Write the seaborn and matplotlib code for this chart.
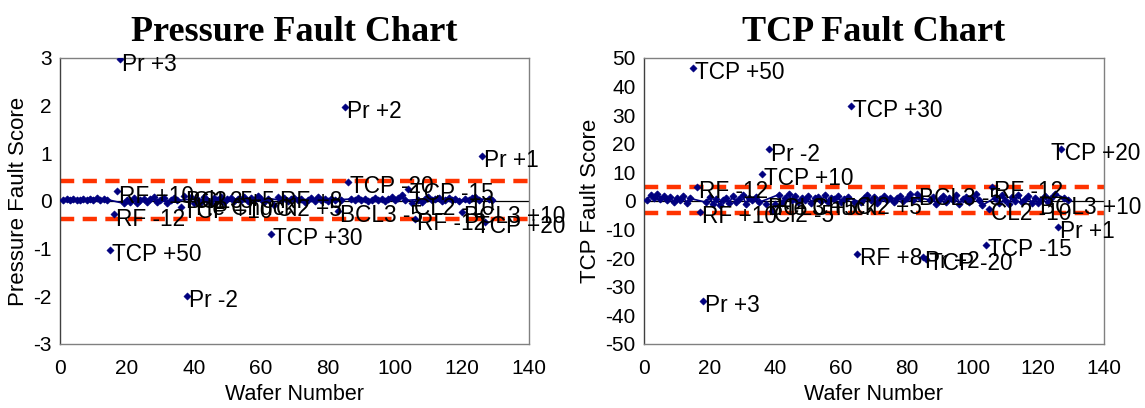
import matplotlib
matplotlib.use("Agg")
import matplotlib.pyplot as plt
import seaborn as sns
import pandas as pd

# ---------------- data ----------------
fault_labels = ["TCP +50", "RF -12", "RF +10", "Pr +3", "TCP +10", "BCL3 +5", "Pr -2",
                "Cl2 -5", "He Chuck", "TCP +30", "Cl2 +5", "RF +8", "BCL3 -5", "Pr +2",
                "TCP -20", "TCP -15", "CL2 -10", "RF -12", "BCL3 +10", "Pr +1", "TCP +20"]
fault_wafers = [15, 16, 17, 18, 36, 37, 38, 39, 40, 63, 64, 65, 83, 85, 86, 104, 105, 106, 120, 126, 127]
pressure_fault_scores = [-1.03, -0.28, 0.20, 2.97, -0.12, 0.10, -1.99, 0.08, -0.05, -0.69, -0.08,
                         0.08, -0.21, 1.98, 0.40, 0.25, -0.05, -0.38, -0.23, 0.95, -0.44]
tcp_fault_scores = [46.5, 5.0, -3.7, -35.0, 9.4, -1.0, 18.1, -3.5, -1.0, 33.2, -0.5,
                    -18.6, 2.4, -19.5, -20.3, -15.4, -2.8, 5.0, -0.7, -9.0, 18.3]

normal_wafers = [w for w in range(1, 130) if w not in fault_wafers]
pressure_normal = [0.03, 0.05, 0.02, 0.04, 0.01, 0.03, 0.05, 0.02, 0.04, 0.03, 0.06, 0.02, 0.04, 0.03,
                   -0.05, 0.03, -0.02, 0.06, -0.04, 0.02, 0.05, -0.03, 0.04, 0.08, -0.02, 0.03, 0.06, -0.05, 0.02, 0.07, 0.01,
                   0.05, -0.03, 0.08, 0.02, -0.04, 0.06, 0.01, 0.09, -0.02, 0.04, 0.07, -0.01, 0.05, 0.03, 0.08, 0.0,
                   0.06, 0.02, 0.10, 0.04, -0.02, 0.05,
                   0.02, 0.06, -0.01, 0.04, 0.07, 0.01, 0.05, -0.02, 0.03, 0.06, 0.0, 0.08, 0.03, 0.05, -0.01, 0.04, 0.02,
                   0.03,
                   0.04, 0.01, 0.06, 0.02, 0.05, -0.01, 0.03, 0.07, 0.02, 0.05, 0.0, 0.04, 0.08, 0.03, 0.06, 0.12, 0.01,
                   0.03, -0.02, 0.05, 0.08, 0.01, 0.04, 0.06, -0.01, 0.03, 0.07, 0.02, 0.05, 0.0,
                   0.04, 0.02, 0.06, 0.08, 0.03,
                   0.05, 0.02]
tcp_normal = [0.5, 2.0, 1.0, 2.5, 0.8, 1.8, 0.2, 1.5, -0.5, 1.2, 0.4, 1.6, -0.8, 0.9,
              -0.5, 1.5, -1.2, 0.8, -1.5, 0.5, 1.2, -0.8, 1.8, -0.2, 0.6, 2.0, -1.0, 1.0, 0.2, 1.5, -0.5,
              2.2, -0.8, 1.0, 2.5, 0.2, 1.6, -0.4, 1.2, 0.5, 1.8, -0.6, 0.9, 1.4, 0.1, 2.0, -0.3, 1.1, 0.6,
              1.7, -0.2, 0.8, 1.3,
              -0.5, 1.0, 2.2, 0.3, 1.5, -0.8, 0.7, 1.9, 0.2, 1.2, -0.4, 0.9, 1.6, 0.0, 1.1, 2.4, 0.5,
              1.0,
              0.4, 1.5, -1.2, 0.8, 1.8, -0.5, 1.2, 0.3, 2.2, -0.9, 0.6, 1.4, -0.2, 1.0, 2.5, 0.2, -1.5,
              1.2, -0.6, 2.0, 0.4, -1.0, 1.5, 0.1, 2.2, -0.4, 0.8, 1.6, -0.8, 1.2,
              0.3, 1.8, -0.5, 1.1, 2.6,
              1.0, 0.5]

pressure_limits = [0.42, -0.37]
tcp_limits = [4.8, -4.3]

titles = ["Pressure Fault Chart", "TCP Fault Chart"]
ylabels = ["Pressure Fault Score", "TCP Fault Score"]
xlabel = "Wafer Number"
x_ticks = [0, 20, 40, 60, 80, 100, 120, 140]
pressure_yticks = [-3, -2, -1, 0, 1, 2, 3]
tcp_yticks = [-50, -40, -30, -20, -10, 0, 10, 20, 30, 40, 50]

# ---------------- plotting ----------------
sns.set_style("white")
plt.rcParams["font.family"] = ["Liberation Sans", "DejaVu Sans"]
plt.rcParams["axes.unicode_minus"] = False
for key in ["text.color", "axes.labelcolor", "xtick.color", "ytick.color"]:
    plt.rcParams[key] = "black"

fig = plt.figure(figsize=(11.45, 4.08), dpi=100)
ax1 = fig.add_axes([0.0524, 0.157, 0.4096, 0.701])
ax2 = fig.add_axes([0.5624, 0.157, 0.4017, 0.701])

navy = "#00007F"
red = "#FF3300"
label_nudge = {"TCP +20": -7}

configs = [
    (ax1, pressure_normal, pressure_fault_scores, pressure_limits, pressure_yticks, titles[0], ylabels[0]),
    (ax2, tcp_normal, tcp_fault_scores, tcp_limits, tcp_yticks, titles[1], ylabels[1]),
]

for ax, normal, faults, limits, yticks, title, ylabel in configs:
    df_n = pd.DataFrame({"wafer": normal_wafers, "score": normal})
    df_f = pd.DataFrame({"wafer": fault_wafers, "score": faults, "label": fault_labels})
    ax.axhline(0, color="black", lw=0.9, zorder=1)
    for lim in limits:
        ax.axhline(lim, color=red, lw=3.2, dashes=(3.2, 1.9), zorder=2)
    sns.lineplot(data=df_n, x="wafer", y="score", ax=ax, color=navy, lw=1.2,
                 marker="D", markersize=3.5, markeredgecolor=navy, zorder=3)
    sns.scatterplot(data=df_f, x="wafer", y="score", ax=ax, color=navy, marker="D",
                    s=14, edgecolor=navy, zorder=4)
    for _, r in df_f.iterrows():
        dx = label_nudge.get(r["label"], 1.5)
        ax.annotate(r["label"], (r["wafer"], r["score"]), xytext=(dx, -3.5),
                    textcoords="offset points", ha="left", va="center",
                    fontsize=16.3, color="black", annotation_clip=False, zorder=5)
    ax.set_xlim(0, 140)
    ax.set_ylim(yticks[0], yticks[-1])
    ax.set_xticks(x_ticks)
    ax.set_yticks(yticks)
    ax.tick_params(axis="x", labelsize=15, length=0, pad=11)
    ax.tick_params(axis="y", labelsize=15, length=0, pad=6)
    ax.set_xlabel(xlabel, fontsize=15.5, labelpad=4)
    ax.set_ylabel(ylabel, fontsize=16, labelpad=3)
    ax.set_title(title, fontsize=26, fontweight="bold", family="Liberation Serif",
                 pad=12, color="black")
    for name, sp in ax.spines.items():
        sp.set_color("#808080")
        sp.set_linewidth(1.0)
    ax.spines["left"].set_color("#404040")

fig.savefig("out.png", dpi=100)
